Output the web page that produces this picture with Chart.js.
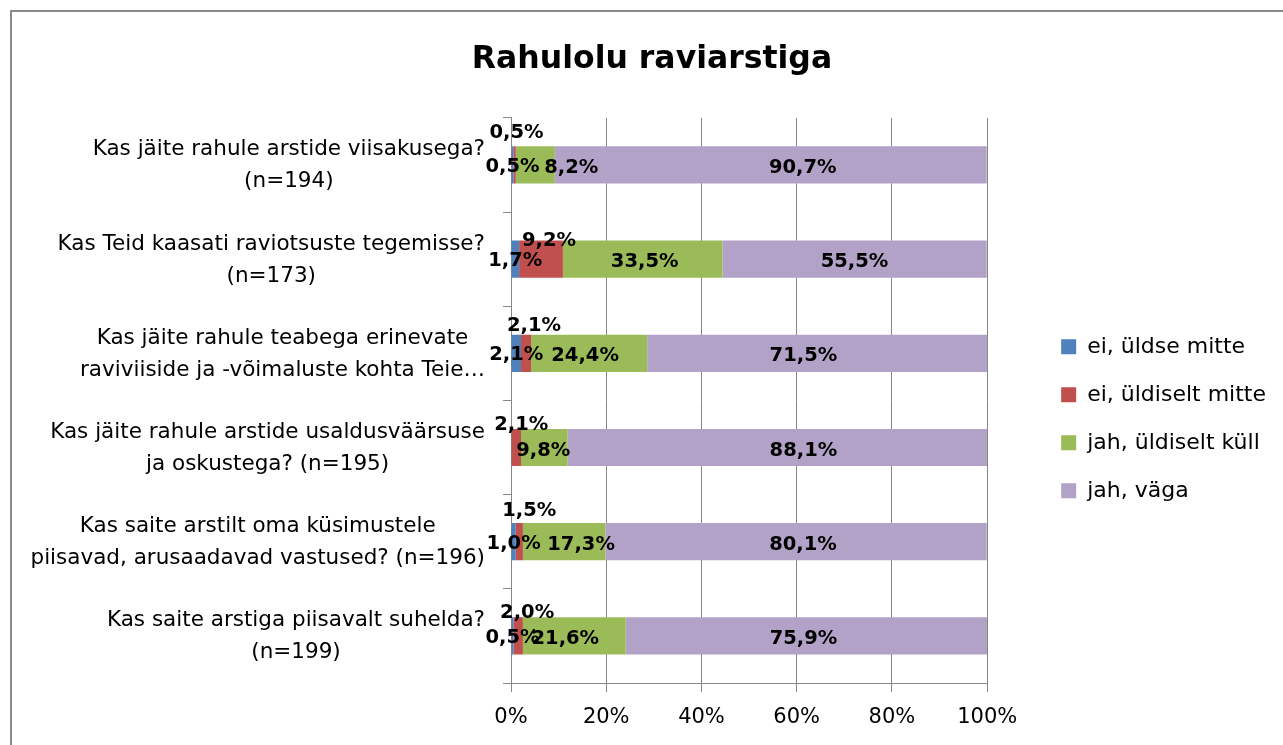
<!DOCTYPE html>
<html>
<head>
<meta charset="utf-8">
<script src="https://cdn.jsdelivr.net/npm/chart.js@4.4.1/dist/chart.umd.min.js"></script>
<style>
  html, body { margin: 0; padding: 0; background: #fff; overflow: hidden; }
  #frame {
    position: absolute; left: 10px; top: 10px; width: 1300px; height: 760px;
    border-left: 2px solid #8a8a8a; border-top: 2px solid #8a8a8a;
  }
  #chart { position: absolute; left: 0; top: 0; }
</style>
</head>
<body>
<div id="frame"></div>
<canvas id="chart" width="1283" height="745"></canvas>
<script>
const questions = [
  ["Kas jäite rahule arstide viisakusega?", "(n=194)"],
  ["Kas Teid kaasati raviotsuste tegemisse?", "(n=173)"],
  ["Kas jäite rahule teabega erinevate", "raviviiside ja -võimaluste kohta Teie…"],
  ["Kas jäite rahule arstide usaldusväärsuse", "ja oskustega? (n=195)"],
  ["Kas saite arstilt oma küsimustele", "piisavad, arusaadavad vastused? (n=196)"],
  ["Kas saite arstiga piisavalt suhelda?", "(n=199)"]
];
const seriesNames = ["ei, üldse mitte", "ei, üldiselt mitte", "jah, üldiselt küll", "jah, väga"];
const eiUldseMitte = [0.5, 1.7, 2.1, 0, 1.0, 0.5];
const eiUldiseltMitte = [0.5, 9.2, 2.1, 2.1, 1.5, 2.0];
const jahUldiseltKull = [8.2, 33.5, 24.4, 9.8, 17.3, 21.6];
const jahVaga = [90.7, 55.5, 71.5, 88.1, 80.1, 75.9];
const xTicks = [0, 20, 40, 60, 80, 100];

const colors = ["#4F81BD", "#C0504D", "#9BBB59", "#B3A2C7"];
const font = "'DejaVu Sans', sans-serif";
const gridColor = "#868686";

// hand-moved labels in the original: [dx, dy] from the segment centre, per series and row
const labelNudge = {
  1: [[2, -32], [8, -18], [8, -27], [5, -23], [10, -31], [9, -23]],
  2: [[36, 3], [2, 3], [-4, 3], [-1, 3], [17, 3], [-9, 3]],
  3: [[32, 3], [0, 3], [-14, 3], [26, 3], [7, 3], [-3, 3]]
};

const valueLabels = {
  id: "valueLabels",
  afterDatasetsDraw(chart) {
    const ctx = chart.ctx;
    ctx.save();
    ctx.font = "bold 19.5px " + font;
    ctx.fillStyle = "#000";
    ctx.textAlign = "center";
    ctx.textBaseline = "middle";
    chart.data.datasets.forEach((ds, di) => {
      const meta = chart.getDatasetMeta(di);
      meta.data.forEach((bar, i) => {
        const v = ds.data[i];
        if (!v) return;
        const [dx, dy] = labelNudge[di] ? labelNudge[di][i] : [0, 2];
        const x = (bar.x + bar.base) / 2;
        ctx.fillText(v.toFixed(1).replace(".", ",") + "%", x + dx, bar.y + dy);
      });
    });
    ctx.restore();
  }
};

// category labels: each block right-aligned, its lines centred inside it
const questionLabels = {
  id: "questionLabels",
  afterDraw(chart) {
    const scale = chart.scales.y;
    const ctx = chart.ctx;
    ctx.save();
    ctx.font = "21.5px " + font;
    ctx.fillStyle = "#000";
    ctx.textAlign = "center";
    ctx.textBaseline = "middle";
    const right = scale.right - 26;
    questions.forEach((lines, i) => {
      const w = Math.max(...lines.map((l) => ctx.measureText(l).width));
      const cx = right - w / 2;
      const y = scale.getPixelForTick(i) + 1;
      lines.forEach((l, k) => {
        ctx.fillText(l, cx, y + (k - (lines.length - 1) / 2) * 32);
      });
    });
    ctx.restore();
  }
};

// leave a gap between the plot and the legend
const legendGap = {
  id: "legendGap",
  afterLayout(chart) {
    chart.legend.left += 48;
    chart.legend.right += 48;
  }
};

const seriesData = [eiUldseMitte, eiUldiseltMitte, jahUldiseltKull, jahVaga];

new Chart(document.getElementById("chart"), {
  type: "bar",
  data: {
    labels: questions,
    datasets: seriesNames.map((name, i) => ({
      label: name,
      data: seriesData[i],
      backgroundColor: colors[i],
      borderWidth: 0,
      categoryPercentage: 0.395,
      barPercentage: 1
    }))
  },
  options: {
    indexAxis: "y",
    responsive: false,
    animation: false,
    layout: { padding: { left: 76, right: 55, top: 0, bottom: 0 } },
    scales: {
      x: {
        stacked: true,
        min: 0,
        max: 100,
        afterBuildTicks: (s) => { s.ticks = xTicks.map((v) => ({ value: v })); },
        ticks: {
          callback: (v) => v + "%",
          color: "#000",
          padding: 13,
          font: { family: font, size: 21 }
        },
        grid: { color: gridColor, tickLength: 9 },
        border: { color: gridColor },
        afterFit: (s) => { s.height = 62; }
      },
      y: {
        stacked: true,
        ticks: { display: false },
        grid: { drawOnChartArea: false, tickLength: 8, color: gridColor, offset: true },
        border: { color: gridColor },
        afterFit: (s) => { s.width = 435; }
      }
    },
    plugins: {
      title: {
        display: true,
        text: "Rahulolu raviarstiga",
        color: "#000",
        font: { family: font, size: 31.5, weight: "bold" },
        padding: { top: 41, bottom: 39 }
      },
      legend: {
        position: "right",
        align: "center",
        fullSize: false,
        title: { display: true, text: " ", font: { size: 22 }, padding: { top: 5, bottom: 5.5 } },
        labels: {
          boxWidth: 15,
          boxHeight: 15,
          padding: 26,
          color: "#000",
          font: { family: font, size: 22 }
        }
      },
      tooltip: { enabled: false }
    }
  },
  plugins: [valueLabels, questionLabels, legendGap]
});
</script>
</body>
</html>
